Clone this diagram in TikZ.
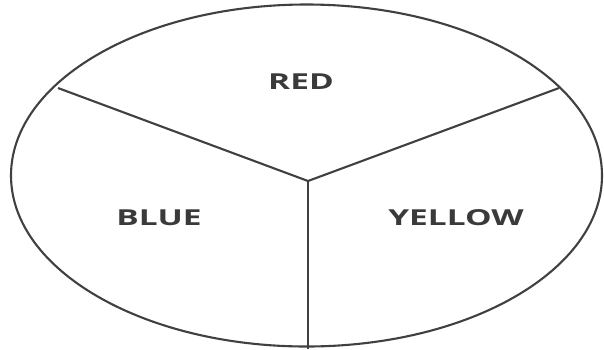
\documentclass[tikz,border=0pt]{standalone}
\usepackage{fontspec}
\setmainfont{Open Sans}
\definecolor{linec}{HTML}{404040}
\definecolor{textc}{HTML}{3A3A3A}
\begin{document}
\begin{tikzpicture}[x=1pt,y=-1pt,
  edge/.style={draw=linec,line width=2.1pt},
  lbl/.style={text=textc,font=\fontsize{22}{24}\selectfont\bfseries,inner sep=0pt,xscale=1.52}]
\useasboundingbox (0,0) rectangle (604,349);
\draw[edge] (306.5,175.5) ellipse [x radius=295.5, y radius=171];
\coordinate (c) at (308,181);
\coordinate (l) at (58,88);
\coordinate (r) at (559,88);
\coordinate (b) at (308,349);
\draw[edge] (l) -- (c) -- (r);
\draw[edge,line width=2.8pt] (c) -- (b);
\node[lbl] (red) at (301,82) {RED};
\node[lbl] (blue) at (159,218) {BLUE};
\node[lbl] (yellow) at (456,218) {YELLOW};
\end{tikzpicture}
\end{document}
